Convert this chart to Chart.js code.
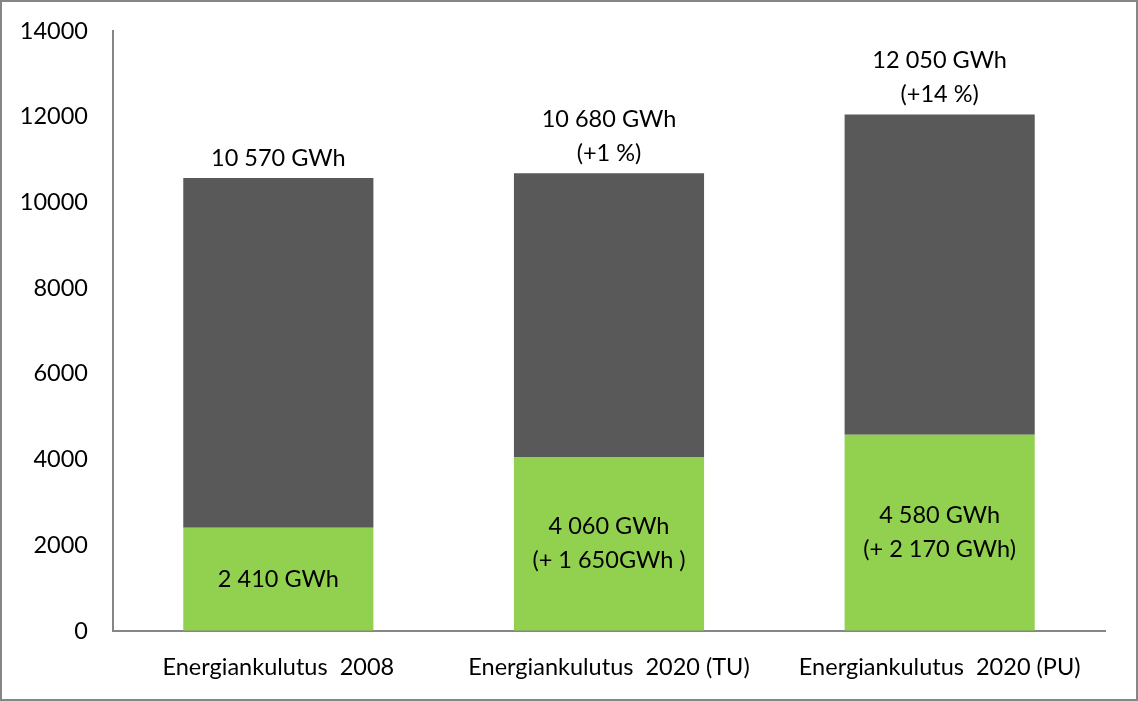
<!DOCTYPE html>
<html>
<head>
<meta charset="utf-8">
<script src="https://cdn.jsdelivr.net/npm/chart.js@4/dist/chart.umd.min.js"></script>
<style>
  html, body { margin: 0; padding: 0; background: #fff; }
  #wrap { width: 1138px; height: 701px; position: relative; }
</style>
</head>
<body>
<div id="wrap"><canvas id="energy_chart"></canvas></div>
<script>
const categories = ['Energiankulutus  2008', 'Energiankulutus  2020 (TU)', 'Energiankulutus  2020 (PU)'];
const green_values = [2410, 4060, 4580];
const grey_values = [8160, 6620, 7470];
const top_labels = [['10 570 GWh'], ['10 680 GWh', '(+1 %)'], ['12 050 GWh', '(+14 %)']];
const green_labels = [['2 410 GWh'], ['4 060 GWh', '(+ 1 650GWh )'], ['4 580 GWh', '(+ 2 170 GWh)']];
const y_ticks = [0, 2000, 4000, 6000, 8000, 10000, 12000, 14000];

const FONT = 'Lato, "Open Sans", sans-serif';
const FONT_SIZE = 23.5;
const LINE_H = 34;

// frame round the whole picture + the value labels
const labels_plugin = {
  id: 'labels_plugin',
  beforeDraw(chart) {
    const ctx = chart.ctx;
    ctx.save();
    ctx.fillStyle = '#ffffff';
    ctx.fillRect(0, 0, chart.width, chart.height);
    ctx.strokeStyle = '#868686';
    ctx.lineWidth = 2;
    ctx.strokeRect(1, 1, chart.width - 2, chart.height - 2);
    ctx.restore();
  },
  afterDatasetsDraw(chart) {
    const ctx = chart.ctx;
    ctx.save();
    ctx.font = FONT_SIZE + 'px ' + FONT;
    ctx.fillStyle = '#000000';
    ctx.textAlign = 'center';
    ctx.textBaseline = 'middle';
    const green_meta = chart.getDatasetMeta(0);
    const grey_meta = chart.getDatasetMeta(1);
    green_meta.data.forEach((bar, i) => {
      const lines = green_labels[i];
      const mid = (bar.y + bar.base) / 2;
      const start = mid - (lines.length - 1) * LINE_H / 2;
      lines.forEach((t, j) => ctx.fillText(t, bar.x, start + j * LINE_H));
    });
    grey_meta.data.forEach((bar, i) => {
      const lines = top_labels[i];
      const last = bar.y - 20;
      lines.forEach((t, j) => ctx.fillText(t, bar.x, last - (lines.length - 1 - j) * LINE_H));
    });
    ctx.restore();
  }
};

const energy_chart = new Chart(document.getElementById('energy_chart'), {
  type: 'bar',
  data: {
    labels: categories,
    datasets: [
      {
        label: 'Uusiutuva',
        data: green_values,
        backgroundColor: '#92D050',
        borderWidth: 0,
        categoryPercentage: 0.575,
        barPercentage: 1
      },
      {
        label: 'Muu',
        data: grey_values,
        backgroundColor: '#595959',
        borderWidth: 0,
        categoryPercentage: 0.575,
        barPercentage: 1
      }
    ]
  },
  options: {
    responsive: true,
    maintainAspectRatio: false,
    animation: false,
    layout: { padding: { left: 0, top: 31, right: 33, bottom: 0 } },
    plugins: {
      legend: { display: false },
      tooltip: { enabled: false }
    },
    scales: {
      x: {
        stacked: true,
        grid: { drawOnChartArea: false, drawTicks: false },
        border: { display: true, color: '#868686', width: 2 },
        ticks: { color: '#000000', font: { family: FONT, size: FONT_SIZE }, padding: 22, maxRotation: 0 },
        afterFit(scale) { scale.height = 70; scale.paddingLeft = 0; scale.paddingRight = 0; }
      },
      y: {
        stacked: true,
        min: 0,
        max: 14000,
        afterBuildTicks(scale) { scale.ticks = y_ticks.map(v => ({ value: v })); },
        grid: { drawOnChartArea: false, drawTicks: false },
        border: { display: true, color: '#868686', width: 2 },
        ticks: {
          color: '#000000',
          font: { family: FONT, size: FONT_SIZE },
          padding: 25,
          callback: (v) => String(v)
        },
        afterFit(scale) { scale.width = 113; scale.paddingTop = 0; scale.paddingBottom = 0; }
      }
    }
  },
  plugins: [labels_plugin]
});
</script>
</body>
</html>
